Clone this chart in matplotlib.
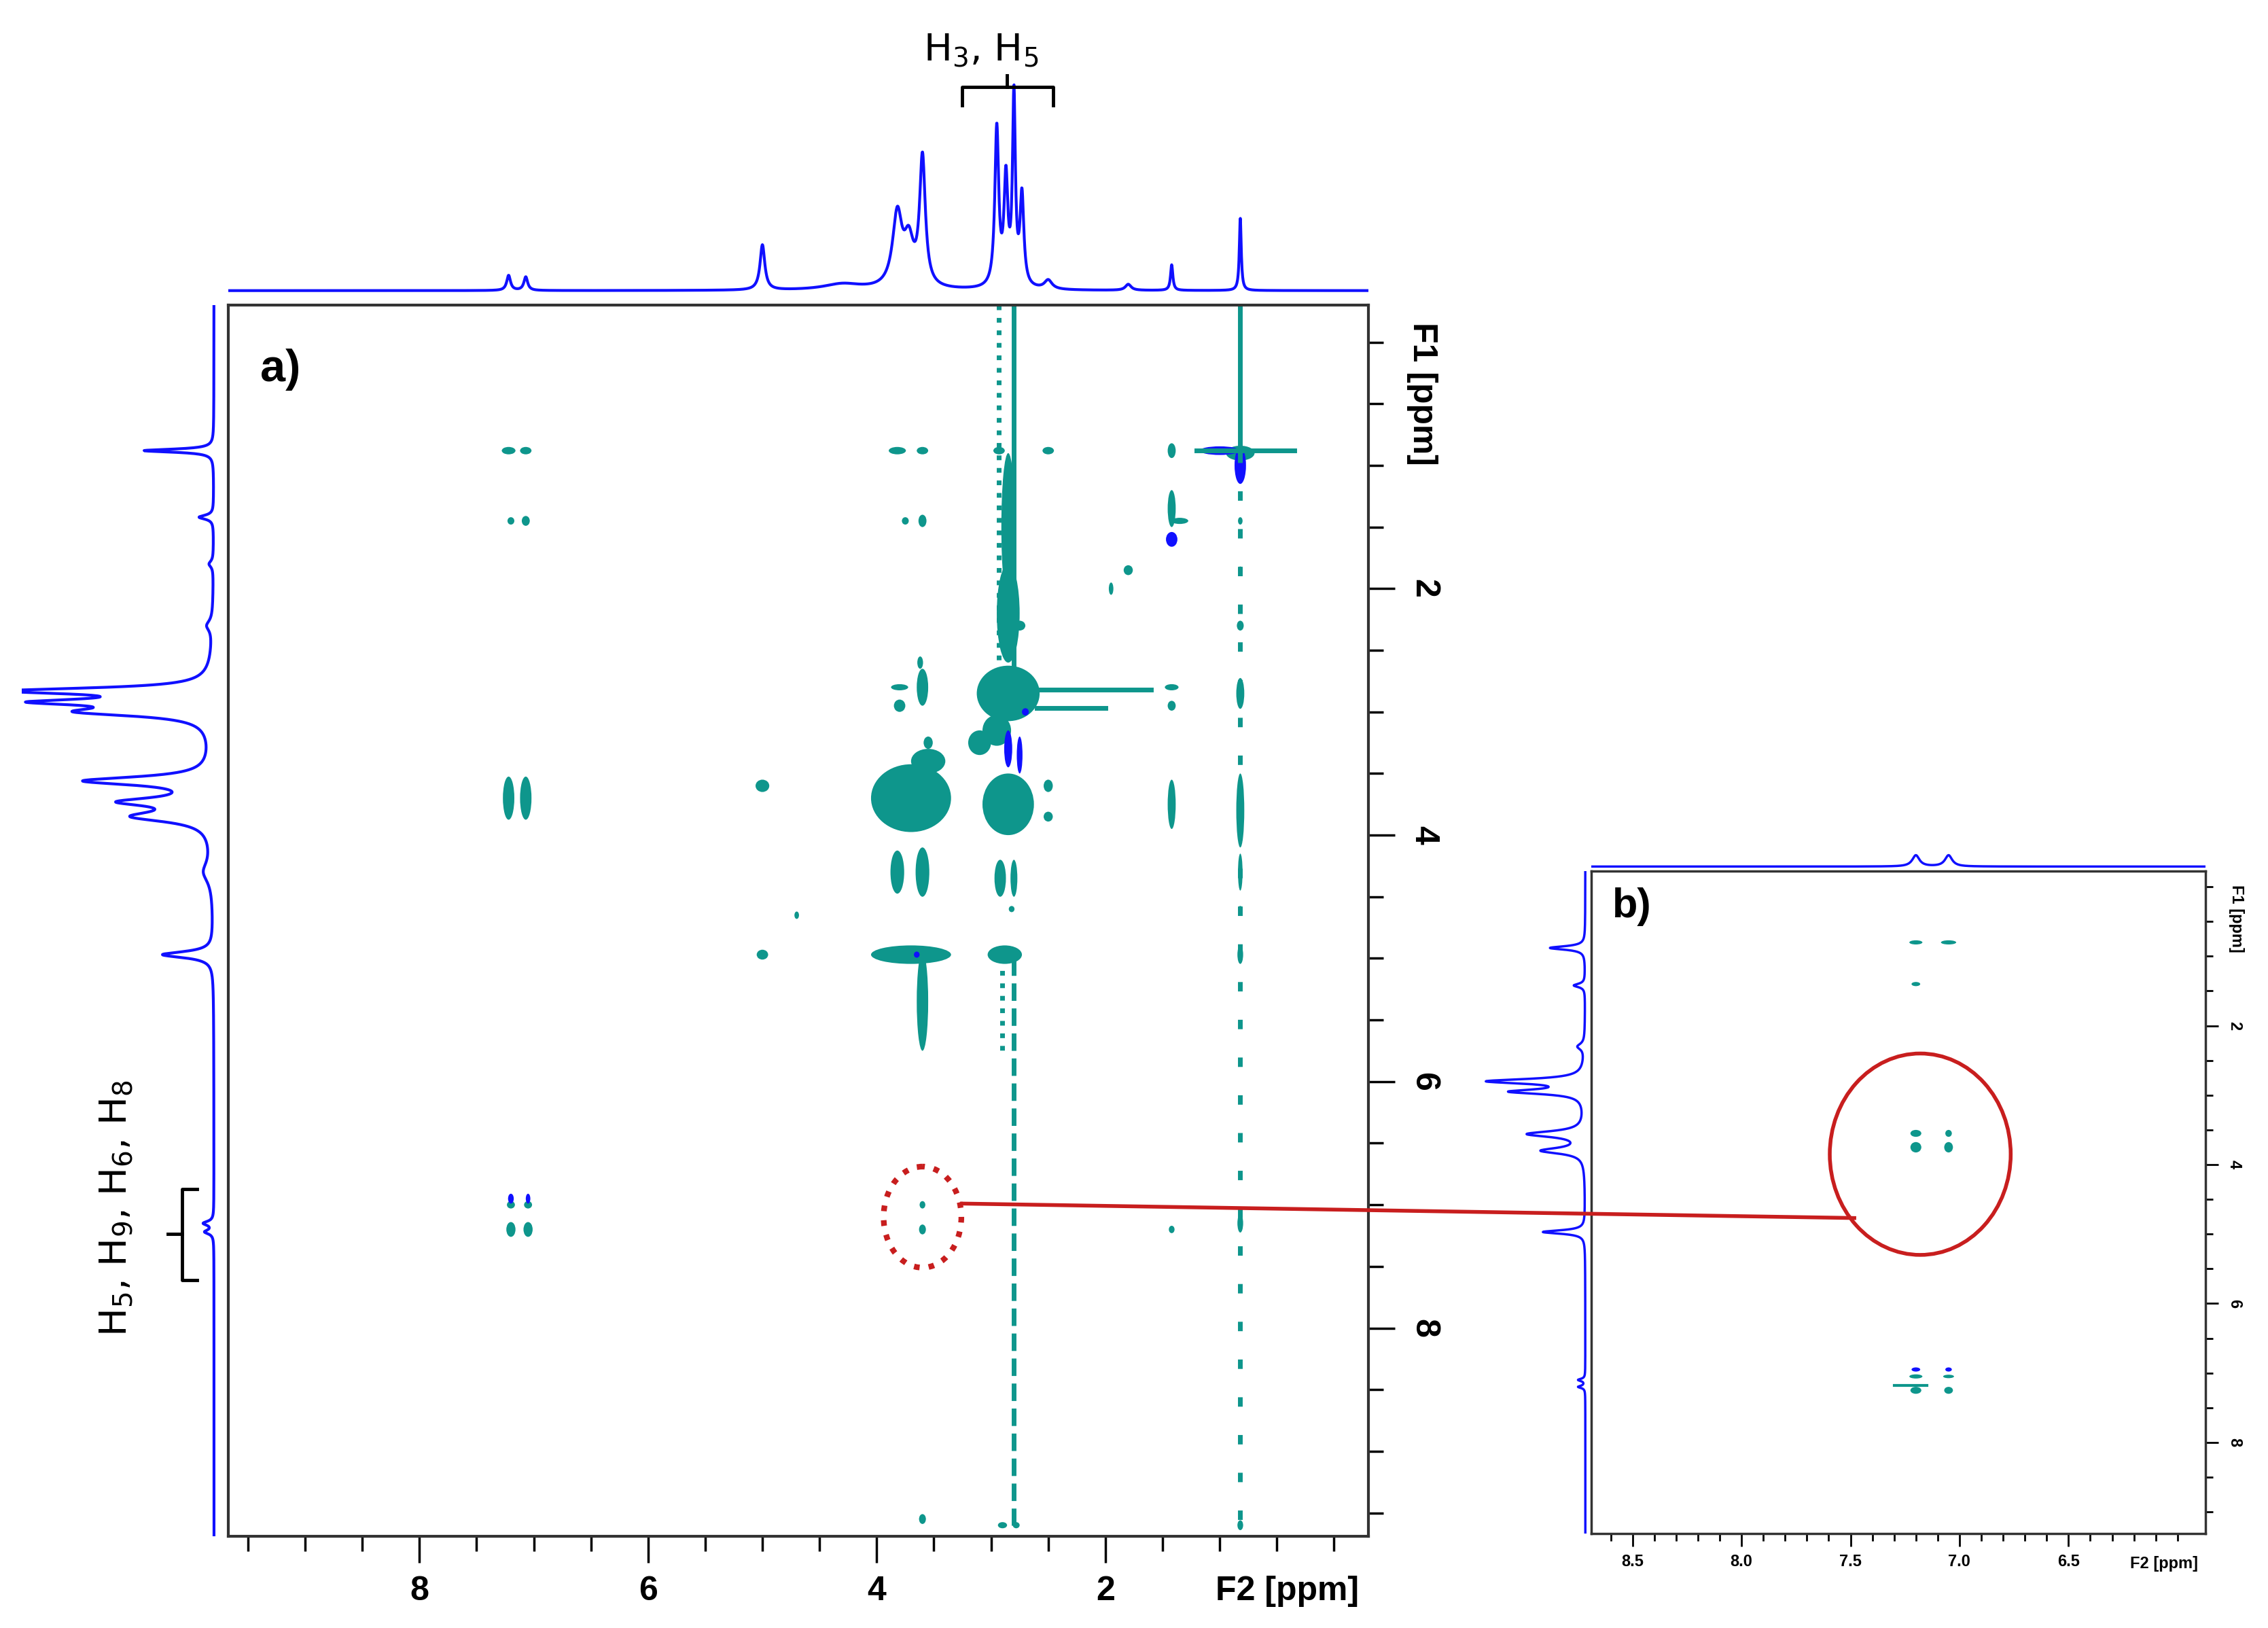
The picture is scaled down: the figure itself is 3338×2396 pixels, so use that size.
import numpy as np
import matplotlib
matplotlib.use("Agg")
import matplotlib.pyplot as plt
from matplotlib.patches import Ellipse

plt.rcParams['font.family'] = ['Liberation Sans Narrow', 'Liberation Sans', 'DejaVu Sans']

TEAL = "#0e968c"
BLUE = "#1010ff"

# --- 1D projections: peak position (ppm), height, half width ---
top_pos = [7.22, 7.07, 5.0, 4.3, 3.82, 3.72, 3.6, 2.95, 2.87, 2.8, 2.73, 2.5, 1.8, 1.42, 0.82]
top_hgt = [10, 9, 30, 4, 48, 28, 85, 105, 70, 125, 60, 6, 4, 17, 48]
top_wid = [0.02, 0.02, 0.025, 0.2, 0.05, 0.05, 0.03, 0.02, 0.02, 0.015, 0.02, 0.04, 0.03, 0.012, 0.01]

left_pos = [0.88, 1.42, 1.8, 2.3, 2.83, 2.92, 3.0, 3.56, 3.73, 3.85, 4.3, 4.97, 7.15, 7.22]
left_hgt = [48, 10, 3, 4, 128, 100, 80, 85, 55, 50, 6, 35, 7, 6]
left_wid = [0.015, 0.02, 0.03, 0.05, 0.03, 0.03, 0.04, 0.04, 0.04, 0.05, 0.1, 0.03, 0.02, 0.02]

b_top_pos = [7.2, 7.05]
b_top_hgt = [8, 8]
b_top_wid = [0.02, 0.02]

b_left_pos = [0.88, 1.42, 2.3, 2.8, 2.95, 3.56, 3.8, 4.97, 7.1, 7.2]
b_left_hgt = [25, 8, 5, 67, 50, 40, 30, 30, 5, 5]
b_left_wid = [0.03, 0.03, 0.05, 0.04, 0.04, 0.05, 0.05, 0.03, 0.02, 0.02]

# --- cross peaks (F2, F1, width, height) in ppm ---
teal_a = [(7.22, 0.88, 0.12, 0.06), (7.07, 0.88, 0.1, 0.06), (3.82, 0.88, 0.15, 0.06),
          (3.6, 0.88, 0.1, 0.06), (2.93, 0.88, 0.1, 0.06), (2.5, 0.88, 0.1, 0.06),
          (1.42, 0.88, 0.07, 0.12), (0.82, 0.9, 0.25, 0.12),
          (7.2, 1.45, 0.06, 0.06), (7.07, 1.45, 0.07, 0.08), (3.75, 1.45, 0.06, 0.06), (3.6, 1.45, 0.07, 0.1),
          (1.42, 1.35, 0.07, 0.3), (1.35, 1.45, 0.15, 0.05), (0.82, 1.45, 0.04, 0.06),
          (1.8, 1.85, 0.08, 0.08), (1.95, 2.0, 0.04, 0.1), (0.82, 1.85, 0.04, 0.06),
          (2.75, 2.3, 0.1, 0.08), (0.82, 2.3, 0.06, 0.08),
          (3.8, 2.8, 0.15, 0.05), (3.8, 2.95, 0.1, 0.1), (3.6, 2.8, 0.1, 0.3), (3.62, 2.6, 0.05, 0.1),
          (1.42, 2.8, 0.12, 0.05), (1.42, 2.95, 0.07, 0.08), (0.82, 2.85, 0.07, 0.25),
          (2.85, 2.85, 0.55, 0.45), (2.95, 3.15, 0.25, 0.25), (3.1, 3.25, 0.2, 0.2),
          (2.85, 2.2, 0.2, 0.8), (2.85, 1.5, 0.12, 1.2),
          (3.7, 3.7, 0.7, 0.55), (3.55, 3.4, 0.3, 0.2), (3.55, 3.25, 0.08, 0.1),
          (2.85, 3.75, 0.45, 0.5), (5.0, 3.6, 0.12, 0.1),
          (7.22, 3.7, 0.1, 0.35), (7.07, 3.7, 0.1, 0.35), (2.5, 3.6, 0.08, 0.1), (2.5, 3.85, 0.08, 0.08),
          (1.42, 3.75, 0.07, 0.4), (0.82, 3.8, 0.07, 0.6),
          (3.82, 4.3, 0.12, 0.35), (3.6, 4.3, 0.12, 0.4), (2.92, 4.35, 0.1, 0.3), (2.8, 4.35, 0.06, 0.3),
          (0.82, 4.3, 0.04, 0.3), (4.7, 4.65, 0.04, 0.06), (2.82, 4.6, 0.05, 0.05), (0.82, 4.6, 0.04, 0.05),
          (5.0, 4.97, 0.1, 0.08), (3.7, 4.97, 0.7, 0.15), (3.6, 5.35, 0.1, 0.8),
          (2.88, 4.97, 0.3, 0.15), (0.82, 4.97, 0.05, 0.15),
          (7.2, 7.2, 0.08, 0.12), (7.05, 7.2, 0.08, 0.12), (7.2, 7.0, 0.07, 0.06), (7.05, 7.0, 0.07, 0.06),
          (3.6, 7.0, 0.05, 0.06), (3.6, 7.2, 0.06, 0.08),
          (1.42, 7.2, 0.05, 0.06), (0.82, 7.15, 0.05, 0.15),
          (3.6, 9.55, 0.06, 0.08), (2.9, 9.6, 0.08, 0.05), (2.78, 9.6, 0.06, 0.05), (0.82, 9.6, 0.05, 0.08)]
blue_a = [(1.0, 0.88, 0.35, 0.07), (0.82, 1.0, 0.1, 0.3), (1.42, 1.6, 0.1, 0.12),
          (2.85, 3.3, 0.07, 0.3), (2.75, 3.35, 0.05, 0.3), (2.7, 3.0, 0.06, 0.06),
          (7.2, 6.95, 0.05, 0.08), (7.05, 6.95, 0.04, 0.08), (3.65, 4.97, 0.05, 0.05)]
# streaks (F2 start, F2 end, F1 start, F1 end, style)
streaks_a = [(2.8, 2.8, -0.3, 3.0, "-"), (2.93, 2.93, -0.3, 2.6, ":"), (2.8, 2.8, 5.0, 9.6, "--"),
             (0.82, 0.82, -0.3, 0.9, "-"), (0.82, 0.82, 0.9, 9.6, (0, (2, 6))),
             (1.2, 0.35, 0.88, 0.88, "-"), (2.6, 1.6, 2.82, 2.82, "-"), (2.6, 2.0, 2.97, 2.97, "-"),
             (2.9, 2.9, 5.0, 5.8, ":")]

teal_b = [(7.2, 0.8, 0.06, 0.06), (7.05, 0.8, 0.07, 0.06), (7.2, 1.4, 0.04, 0.06),
          (7.2, 3.55, 0.05, 0.1), (7.2, 3.75, 0.05, 0.15), (7.05, 3.55, 0.03, 0.1), (7.05, 3.75, 0.04, 0.15),
          (7.2, 7.05, 0.06, 0.06), (7.05, 7.05, 0.05, 0.05), (7.2, 7.25, 0.05, 0.1), (7.05, 7.25, 0.04, 0.1)]
blue_b = [(7.2, 6.95, 0.04, 0.06), (7.05, 6.95, 0.03, 0.06)]


def spectrum(x, pos, hgt, wid):
    y = np.zeros_like(x)
    for p, h, w in zip(pos, hgt, wid):
        y += h * w**2 / ((x - p)**2 + w**2)
    return y


W, H = 1568.0, 1125.4


def box(x0, y0, x1, y1):
    return [x0 / W, 1 - y1 / H, (x1 - x0) / W, (y1 - y0) / H]


fig = plt.figure(figsize=(33.38, 23.96), dpi=100)

# ---------- main panel a ----------
ax = fig.add_axes(box(158, 211, 946, 1062))
ax.set_xlim(9.67, -0.30)
ax.set_ylim(9.69, -0.30)
for f2, f1, w, h in teal_a:
    ax.add_patch(Ellipse((f2, f1), w, h, color=TEAL, lw=0))
for f2, f1, w, h in blue_a:
    ax.add_patch(Ellipse((f2, f1), w, h, color=BLUE, lw=0))
for x0, x1, y0, y1, ls in streaks_a:
    ax.plot([x0, x1], [y0, y1], color=TEAL, lw=5, ls=ls)
ax.yaxis.tick_right()
ax.yaxis.set_label_position("right")
ax.set_xticks([8, 6, 4, 2])
ax.set_xticks(np.arange(0, 9.6, 0.5), minor=True)
ax.set_yticks([2, 4, 6, 8])
ax.set_yticks(np.arange(0, 9.6, 0.5), minor=True)
ax.tick_params(which="major", length=28, width=2.5, labelsize=36, pad=14)
ax.tick_params(which="minor", length=16, width=2.5)
for lab in ax.get_xticklabels():
    lab.set_fontweight("bold")
for lab in ax.get_yticklabels():
    lab.set_fontweight("bold")
    lab.set_rotation(-90)
    lab.set_va("center")
for s in ax.spines.values():
    s.set_linewidth(3)
    s.set_color("#333333")
fig.text(890 / W, 1 - 1100 / H, "F2 [ppm]", fontsize=36, fontweight="bold", ha="center", va="center")
fig.text(983 / W, 1 - 272 / H, "F1 [ppm]", fontsize=36, fontweight="bold", ha="center", va="center", rotation=-90)
ax.text(0.028, 0.965, "a)", transform=ax.transAxes, fontsize=48, fontweight="bold", va="top")

# red dotted ellipse around the selected cross peak
ax.add_patch(Ellipse((3.6, 7.1), 0.68, 0.82, fill=False, ec="#c81e1e", lw=6, ls=(0, (1, 1.6))))

# top projection a
axt = fig.add_axes(box(158, 55, 946, 203))
xs = np.linspace(9.67, -0.30, 4000)
axt.plot(xs, spectrum(xs, top_pos, top_hgt, top_wid), color=BLUE, lw=3)
axt.set_xlim(9.67, -0.30)
axt.set_ylim(-2, 140)
axt.axis("off")

# left projection a
axl = fig.add_axes(box(15, 211, 152, 1062))
ys = np.linspace(-0.30, 9.69, 4000)
axl.plot(spectrum(ys, left_pos, left_hgt, left_wid), ys, color=BLUE, lw=3)
axl.set_ylim(9.69, -0.30)
axl.set_xlim(132, -4)
axl.axis("off")

# ---------- panel b ----------
bx = fig.add_axes(box(1100, 602, 1525, 1060))
bx.set_xlim(8.69, 5.87)
bx.set_ylim(9.31, -0.23)
for f2, f1, w, h in teal_b:
    bx.add_patch(Ellipse((f2, f1), w, h, color=TEAL, lw=0))
for f2, f1, w, h in blue_b:
    bx.add_patch(Ellipse((f2, f1), w, h, color=BLUE, lw=0))
bx.plot([7.3, 7.15], [7.18, 7.18], color=TEAL, lw=3)
bx.yaxis.tick_right()
bx.set_xticks([8.5, 8.0, 7.5, 7.0, 6.5])
bx.set_xticklabels(["8.5", "8.0", "7.5", "7.0", "6.5"])
bx.set_xticks(np.arange(6.0, 8.7, 0.1), minor=True)
bx.set_yticks([2, 4, 6, 8])
bx.set_yticks(np.arange(0, 9.1, 0.5), minor=True)
bx.tick_params(which="major", length=14, width=2, labelsize=17, pad=8)
bx.tick_params(which="minor", length=8, width=2)
for lab in bx.get_xticklabels():
    lab.set_fontweight("bold")
for lab in bx.get_yticklabels():
    lab.set_fontweight("bold")
    lab.set_rotation(-90)
    lab.set_va("center")
for s in bx.spines.values():
    s.set_linewidth(2.5)
    s.set_color("#333333")
fig.text(1496 / W, 1 - 1081 / H, "F2 [ppm]", fontsize=17, fontweight="bold", ha="center", va="center")
fig.text(1546 / W, 1 - 635 / H, "F1 [ppm]", fontsize=17, fontweight="bold", ha="center", va="center", rotation=-90)
bx.text(0.035, 0.975, "b)", transform=bx.transAxes, fontsize=44, fontweight="bold", va="top")
bx.add_patch(Ellipse((7.18, 3.85), 0.83, 2.9, fill=False, ec="#c81e1e", lw=4))

bxt = fig.add_axes(box(1100, 570, 1525, 600))
xb = np.linspace(8.69, 5.87, 2000)
bxt.plot(xb, spectrum(xb, b_top_pos, b_top_hgt, b_top_wid), color=BLUE, lw=2.5)
bxt.set_xlim(8.69, 5.87)
bxt.set_ylim(-1, 30)
bxt.axis("off")

bxl = fig.add_axes(box(1020, 602, 1098, 1060))
yb = np.linspace(-0.23, 9.31, 3000)
bxl.plot(spectrum(yb, b_left_pos, b_left_hgt, b_left_wid), yb, color=BLUE, lw=2.5)
bxl.set_ylim(9.31, -0.23)
bxl.set_xlim(78, -2)
bxl.axis("off")

# connecting red line
fig.add_artist(plt.Line2D([665 / W, 1282 / W], [1 - 832 / H, 1 - 842 / H], color="#c81e1e", lw=4))

# labels with braces
fig.text(678 / W, 1 - 35 / H, "H$_3$, H$_5$", fontsize=40, ha="center", va="center",
         family=["Liberation Sans Narrow", "DejaVu Sans"])
fig.add_artist(plt.Line2D([665 / W, 665 / W, 728 / W, 728 / W], [1 - 73 / H, 1 - 60 / H, 1 - 60 / H, 1 - 73 / H],
                          color="black", lw=3.5))
fig.add_artist(plt.Line2D([696 / W, 696 / W], [1 - 60 / H, 1 - 52 / H], color="black", lw=3.5))

fig.text(80 / W, 1 - 835 / H, "H$_5$, H$_9$, H$_6$, H$_8$", fontsize=40, ha="center", va="center",
         rotation=90, family=["Liberation Sans Narrow", "DejaVu Sans"])
fig.add_artist(plt.Line2D([136 / W, 126 / W, 126 / W, 136 / W], [1 - 822 / H, 1 - 822 / H, 1 - 885 / H, 1 - 885 / H],
                          color="black", lw=3.5))
fig.add_artist(plt.Line2D([126 / W, 116 / W], [1 - 853 / H, 1 - 853 / H], color="black", lw=3.5))

fig.savefig("out.png", dpi=100, facecolor="white")
